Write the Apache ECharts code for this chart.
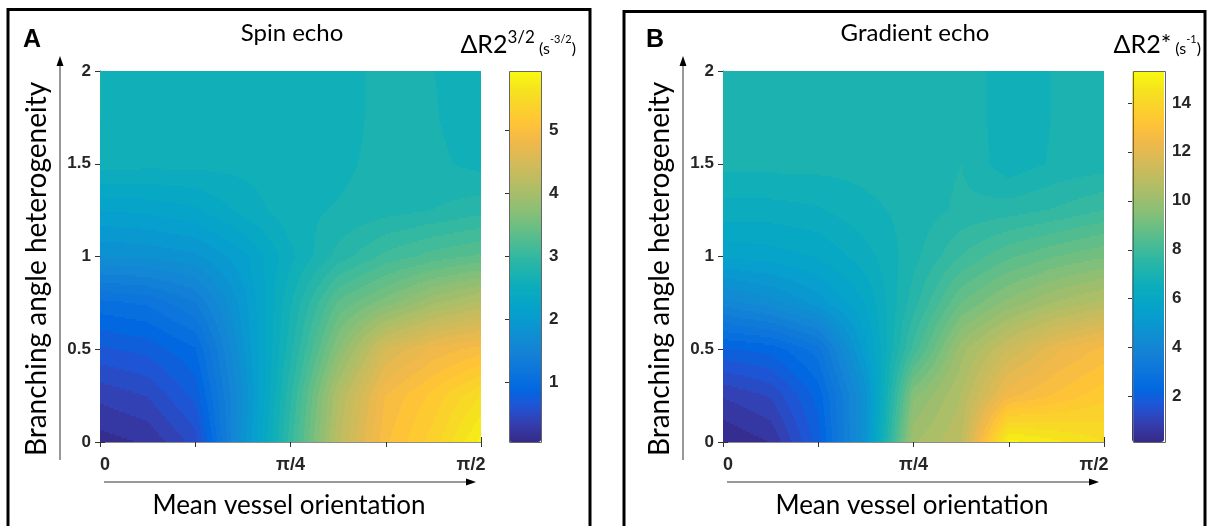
<!DOCTYPE html>
<html>
<head>
<meta charset="utf-8">
<title>Spin echo / Gradient echo</title>
<script src="https://cdn.jsdelivr.net/npm/echarts@6/dist/echarts.min.js"></script>
<style>
  html, body { margin: 0; padding: 0; background: #fff; }
  #main { width: 1208px; height: 526px; }
</style>
</head>
<body>
<div id="main"></div>
<script>
// grid of the simulation: mean vessel orientation (rad) x branching angle heterogeneity
const xValues = [0, 0.19635, 0.39270, 0.58905, 0.78540, 0.98175, 1.17810, 1.37445, 1.57080]
const yValues = [0, 0.25, 0.5, 0.75, 1, 1.25, 1.5, 1.75, 2]

// ΔR2^(3/2), rows go from heterogeneity 0 (bottom) to 2 (top)
const spinEcho = [
  [0.12, 0.20, 0.50, 1.80, 3.00, 4.20, 5.00, 5.35, 5.85],
  [0.35, 0.45, 0.75, 1.75, 2.90, 4.10, 4.90, 5.20, 5.55],
  [0.68, 0.75, 0.95, 1.85, 2.75, 3.70, 4.50, 4.80, 4.95],
  [1.05, 1.12, 1.35, 1.95, 2.65, 3.35, 3.65, 3.95, 4.15],
  [1.75, 1.78, 1.85, 2.10, 2.50, 2.85, 3.10, 3.25, 3.35],
  [2.15, 2.18, 2.25, 2.45, 2.62, 2.68, 2.74, 2.80, 2.88],
  [2.60, 2.58, 2.58, 2.58, 2.60, 2.63, 2.72, 2.70, 2.62],
  [2.67, 2.58, 2.58, 2.58, 2.58, 2.60, 2.72, 2.68, 2.58],
  [2.67, 2.58, 2.58, 2.58, 2.58, 2.60, 2.72, 2.67, 2.58]
]

// ΔR2* (s-1)
const gradientEcho = [
  [0.15, 0.50, 2.00, 4.80, 10.2, 10.9, 15.1, 14.7, 14.3],
  [0.85, 1.20, 2.30, 4.70, 9.50, 10.6, 12.5, 13.0, 13.5],
  [2.10, 2.30, 3.00, 5.40, 8.00, 10.1, 11.3, 12.2, 12.7],
  [4.00, 4.40, 5.00, 5.90, 7.40, 8.90, 9.70, 10.3, 10.7],
  [5.60, 5.70, 5.90, 6.40, 7.10, 7.90, 8.50, 8.90, 9.20],
  [6.40, 6.40, 6.50, 6.80, 7.00, 7.30, 7.40, 7.60, 7.90],
  [7.00, 7.00, 7.00, 7.00, 7.00, 7.22, 6.65, 6.95, 7.05],
  [7.00, 7.00, 7.00, 7.00, 7.00, 7.22, 6.60, 6.92, 7.00],
  [7.00, 7.00, 7.00, 7.00, 7.00, 7.22, 6.60, 6.92, 7.00]
]

// colour limits and colorbar tick labels
const spinRange = [0.05, 5.94]
const gradRange = [0.15, 15.3]
const spinBarTicks = [1, 2, 3, 4, 5]
const gradBarTicks = [2, 4, 6, 8, 10, 12, 14]

// x tick labels
const xLabelValues = [0, Math.PI / 4, Math.PI / 2]
const xLabelTexts = ['0', 'π/4', '{p|π/2}']

// parula
const PARULA = [
  '#352A87', '#353DAD', '#2053D4', '#0268E1', '#0D75DC', '#1481D6', '#108ED2', '#079CCF',
  '#06A7C6', '#0FAEB9', '#25B5A9', '#42BB98', '#65BE86', '#87BF77', '#A5BE6B', '#C0BC60',
  '#D9BA56', '#F1B94A', '#FFC337', '#FAD32A', '#F5E41D', '#F9FB0E'
]
const PARULA_RGB = PARULA.map(h => [
  parseInt(h.substr(1, 2), 16), parseInt(h.substr(3, 2), 16), parseInt(h.substr(5, 2), 16)
])
function parula(t) {
  t = Math.max(0, Math.min(1, t))
  const f = t * (PARULA_RGB.length - 1)
  const i = Math.min(PARULA_RGB.length - 2, Math.floor(f))
  const a = PARULA_RGB[i], b = PARULA_RGB[i + 1], k = f - i
  return 'rgb(' + Math.round(a[0] + (b[0] - a[0]) * k) + ',' +
    Math.round(a[1] + (b[1] - a[1]) * k) + ',' + Math.round(a[2] + (b[2] - a[2]) * k) + ')'
}

const N_LEVELS = 45 // contourf-like banding

function buildCells(z) {
  const cells = []
  for (let j = 0; j < yValues.length - 1; j++) {
    for (let i = 0; i < xValues.length - 1; i++) {
      cells.push([xValues[i], yValues[j], xValues[i + 1], yValues[j + 1],
        z[j][i], z[j][i + 1], z[j + 1][i], z[j + 1][i + 1]])
    }
  }
  return cells
}

// filled cell: bilinear inside the cell, cut into contour bands
function makeRenderItem(range) {
  const step = (range[1] - range[0]) / N_LEVELS
  return function (params, api) {
    const p0 = api.coord([api.value(0), api.value(1)])
    const p1 = api.coord([api.value(2), api.value(3)])
    const z00 = api.value(4), z10 = api.value(5), z01 = api.value(6), z11 = api.value(7)
    const left = Math.round(p0[0]), right = Math.round(p1[0])
    const top = Math.round(p1[1]), bottom = Math.round(p0[1])
    const children = []
    const ROW = 2
    for (let y = top; y < bottom; y += ROW) {
      const h = Math.min(ROW, bottom - y)
      const fy = (p0[1] - (y + h / 2)) / (p0[1] - p1[1])
      let runStart = left, runLevel = null
      for (let x = left; x <= right; x++) {
        let k = null
        if (x < right) {
          const fx = (x + 0.5 - p0[0]) / (p1[0] - p0[0])
          const z = z00 * (1 - fx) * (1 - fy) + z10 * fx * (1 - fy) + z01 * (1 - fx) * fy + z11 * fx * fy
          k = Math.max(0, Math.min(N_LEVELS - 1, Math.floor((z - range[0]) / step)))
        }
        if (k !== runLevel) {
          if (runLevel !== null) {
            const cv = range[0] + (runLevel + 0.5) * step
            children.push({
              type: 'rect',
              shape: { x: runStart, y: y, width: x - runStart, height: h },
              style: { fill: parula((cv - range[0]) / (range[1] - range[0])) }
            })
          }
          runStart = x
          runLevel = k
        }
      }
    }
    return { type: 'group', children: children }
  }
}

const LABEL_FONT = 'Liberation Sans'
const TEXT_FONT = 'Lato'
const DX = 623 // offset of panel B

function xLabel(v) {
  for (let i = 0; i < xLabelValues.length; i++) {
    if (Math.abs(v - xLabelValues[i]) < 1e-6) return xLabelTexts[i]
  }
  return ''
}

const axisLineStyle = { color: '#8c8c8c', width: 1 }
const tickStyle = { color: '#333', width: 1 }
const labelStyle = { color: '#262626', fontSize: 17, fontWeight: 'bold', fontFamily: LABEL_FONT }

const grids = []
const xAxes = []
const yAxes = []
const series = []
const visualMaps = []

function addPanel(offset, z, range, barTicks) {
  const g = grids.length
  // main plot
  grids.push({ left: 100 + offset, top: 71, width: 381, height: 371, outerBoundsMode: 'none' })
  // colorbar (only for the ticks/labels)
  grids.push({ left: 509 + offset, top: 71, width: 32, height: 371, outerBoundsMode: 'none' })

  const xi = xAxes.length
  const yi = yAxes.length
  xAxes.push({
    gridIndex: g, type: 'value', min: 0, max: Math.PI / 2, interval: Math.PI / 8,
    axisLine: { lineStyle: axisLineStyle },
    axisTick: { inside: true, length: 5, lineStyle: tickStyle },
    axisLabel: Object.assign({}, labelStyle, {
      margin: 14, fontSize: 18, formatter: xLabel, customValues: xLabelValues,
      alignMinLabel: 'left',
      rich: { p: { fontSize: 18, fontWeight: 'bold', fontFamily: LABEL_FONT, color: '#262626', padding: [0, 20, 0, 0] } }
    }),
    splitLine: { show: false }
  })
  xAxes.push({
    gridIndex: g, type: 'value', position: 'top', min: 0, max: Math.PI / 2, interval: Math.PI / 8,
    axisLine: { lineStyle: axisLineStyle },
    axisTick: { inside: true, length: 5, lineStyle: tickStyle },
    axisLabel: { show: false }, splitLine: { show: false }
  })
  yAxes.push({
    gridIndex: g, type: 'value', min: 0, max: 2, interval: 0.5,
    axisLine: { show: true, lineStyle: axisLineStyle },
    axisTick: { show: true, inside: true, length: 5, lineStyle: tickStyle },
    axisLabel: Object.assign({}, labelStyle, { margin: 9 }),
    splitLine: { show: false }
  })
  yAxes.push({
    gridIndex: g, type: 'value', position: 'right', min: 0, max: 2, interval: 0.5,
    axisLine: { show: true, lineStyle: axisLineStyle },
    axisTick: { show: true, inside: true, length: 5, lineStyle: tickStyle },
    axisLabel: { show: false }, splitLine: { show: false }
  })
  // colorbar axes
  xAxes.push({ gridIndex: g + 1, type: 'value', min: 0, max: 1, show: false })
  yAxes.push({
    gridIndex: g + 1, type: 'value', position: 'right', min: range[0], max: range[1],
    axisLine: { show: false },
    axisTick: { show: true, inside: true, length: 4, lineStyle: tickStyle, customValues: barTicks },
    axisLabel: Object.assign({}, labelStyle, { margin: 8, customValues: barTicks,
      formatter: v => (barTicks.indexOf(v) >= 0 ? String(v) : '') }),
    splitLine: { show: false }
  })

  series.push({
    type: 'custom',
    xAxisIndex: xi,
    yAxisIndex: yi,
    silent: true,
    animation: false,
    renderItem: makeRenderItem(range),
    data: buildCells(z),
    z: 1
  })

  visualMaps.push({
    type: 'continuous',
    seriesIndex: series.length - 1,
    dimension: 4,
    min: range[0],
    max: range[1],
    calculable: false,
    hoverLink: false,
    left: 509 + offset,
    top: 71,
    itemWidth: 32,
    itemHeight: 371,
    padding: 0,
    inRange: { color: PARULA }
  })
}

addPanel(0, spinEcho, spinRange, spinBarTicks)
addPanel(DX, gradientEcho, gradRange, gradBarTicks)

// arrows, frames, titles
function arrowY(x) {
  return [
    { type: 'line', shape: { x1: x, y1: 460, x2: x, y2: 64 }, style: { stroke: '#333', lineWidth: 1 } },
    { type: 'polygon', shape: { points: [[x, 56], [x - 3.5, 66], [x + 3.5, 66]] }, style: { fill: '#000' } }
  ]
}
function arrowX(x1, x2, y) {
  return [
    { type: 'line', shape: { x1: x1, y1: y, x2: x2 - 6, y2: y }, style: { stroke: '#333', lineWidth: 1 } },
    { type: 'polygon', shape: { points: [[x2, y], [x2 - 10, y - 3.5], [x2 - 10, y + 3.5]] }, style: { fill: '#000' } }
  ]
}
function text(x, y, str, size, opts) {
  return Object.assign({
    type: 'text', x: x, y: y, z: 10,
    style: Object.assign({ text: str, fill: '#000', font: size + 'px ' + TEXT_FONT, align: 'center', verticalAlign: 'middle' },
      opts && opts.style)
  }, opts && opts.el)
}
function barFrame(offset) {
  return { type: 'rect', z: 20, shape: { x: 509.5 + offset, y: 71.5, width: 32, height: 371 },
    style: { fill: 'none', stroke: '#666', lineWidth: 1 } }
}

const unitRich = {
  m: { fontSize: 25, fontFamily: TEXT_FONT, lineHeight: 28, verticalAlign: 'bottom' },
  sup: { fontSize: 17, fontFamily: TEXT_FONT, lineHeight: 17, verticalAlign: 'top' },
  s: { fontSize: 16, fontFamily: TEXT_FONT, lineHeight: 25, verticalAlign: 'bottom' },
  ss: { fontSize: 11, fontFamily: TEXT_FONT, lineHeight: 11, verticalAlign: 'top', padding: [5, 0, 0, 0] }
}

const graphics = [
  { type: 'rect', shape: { x: 8, y: 9.5, width: 582, height: 540 }, style: { fill: 'none', stroke: '#000', lineWidth: 3 }, z: 30 },
  { type: 'rect', shape: { x: 624, y: 11.5, width: 581, height: 540 }, style: { fill: 'none', stroke: '#000', lineWidth: 3 }, z: 30 },
  barFrame(0), barFrame(DX + 1),
  ...arrowY(60), ...arrowY(60 + DX),
  ...arrowX(104, 476, 482), ...arrowX(104 + DX, 476 + DX, 482),
  text(32, 40, 'A', 25, { style: { font: 'bold 25px ' + LABEL_FONT } }),
  text(32 + DX, 40, 'B', 25, { style: { font: 'bold 25px ' + LABEL_FONT } }),
  text(292, 33, 'Spin echo', 24),
  text(292 + DX, 33, 'Gradient echo', 24),
  text(289, 506, 'Mean vessel orientation', 26),
  text(289 + DX, 506, 'Mean vessel orientation', 26),
  text(37, 269, 'Branching angle heterogeneity', 28, { el: { rotation: Math.PI / 2 } }),
  text(37 + DX, 269, 'Branching angle heterogeneity', 28, { el: { rotation: Math.PI / 2 } }),
  { type: 'text', x: 576, y: 43, z: 10, style: { text: '{m|ΔR2}{sup|3/2}{s| (s}{ss|-3/2}{s|)}', rich: unitRich, align: 'right', verticalAlign: 'middle', fill: '#000' } },
  { type: 'text', x: 1201, y: 43, z: 10, style: { text: '{m|ΔR2*}{s| (s}{ss|-1}{s|)}', rich: unitRich, align: 'right', verticalAlign: 'middle', fill: '#000' } }
]

const chart = echarts.init(document.getElementById('main'), null, { renderer: 'canvas' })
chart.setOption({
  animation: false,
  backgroundColor: '#fff',
  grid: grids,
  xAxis: xAxes,
  yAxis: yAxes,
  visualMap: visualMaps,
  series: series,
  graphic: graphics
})
</script>
</body>
</html>
